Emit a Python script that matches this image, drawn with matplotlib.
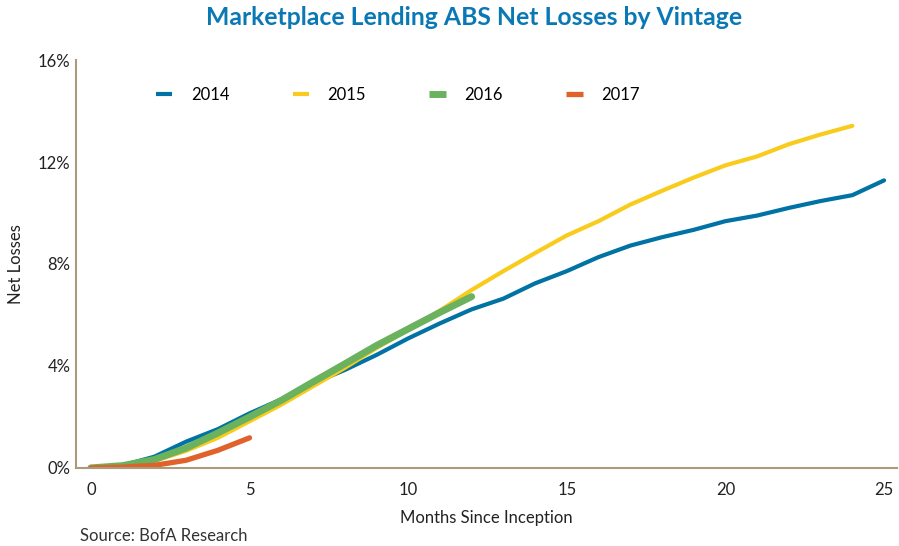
import numpy as np
import matplotlib.pyplot as plt

# data (net losses, %)
months_2014 = list(range(0, 26))
loss_2014 = [0.0, 0.1, 0.44, 1.03, 1.52, 2.14, 2.69, 3.32, 3.84, 4.43, 5.08, 5.67,
             6.22, 6.64, 7.24, 7.72, 8.27, 8.72, 9.05, 9.34, 9.68, 9.9, 10.2,
             10.47, 10.7, 11.28]
months_2015 = list(range(0, 25))
loss_2015 = [0.0, 0.05, 0.27, 0.67, 1.18, 1.83, 2.48, 3.2, 3.92, 4.7, 5.42, 6.17,
             6.98, 7.72, 8.43, 9.12, 9.68, 10.33, 10.87, 11.39, 11.87, 12.22,
             12.7, 13.08, 13.42]
months_2016 = list(range(0, 13))
loss_2016 = [0.0, 0.09, 0.33, 0.78, 1.37, 2.0, 2.65, 3.37, 4.08, 4.8, 5.45, 6.1, 6.72]
months_2017 = list(range(0, 6))
loss_2017 = [0.0, 0.03, 0.1, 0.3, 0.69, 1.18]

plt.rcParams['font.family'] = ['Lato', 'DejaVu Sans']

fig = plt.figure(figsize=(8.99, 5.46), dpi=100)
ax = fig.add_axes([0.0845, 0.143, 0.913, 0.747])

ax.plot(months_2014, loss_2014, color='#0072A3', lw=3, solid_capstyle='round', label='2014')
ax.plot(months_2015, loss_2015, color='#F8CB1C', lw=3, solid_capstyle='round', label='2015')
ax.plot(months_2016, loss_2016, color='#6AB25E', lw=5, solid_capstyle='round', label='2016')
ax.plot(months_2017, loss_2017, color='#E0612A', lw=3.8, solid_capstyle='round', label='2017')

ax.set_xlim(-0.47, 25.4)
ax.set_ylim(0, 16)
ax.set_xticks([0, 5, 10, 15, 20, 25])
ax.set_yticks([0, 4, 8, 12, 16])
ax.set_yticklabels(['0%', '4%', '8%', '12%', '16%'])
ax.tick_params(length=0, labelsize=12, colors='#222222')
ax.tick_params(axis='x', pad=10)
ax.tick_params(axis='y', pad=4)

for s in ['top', 'right']:
    ax.spines[s].set_visible(False)
for s in ['left', 'bottom']:
    ax.spines[s].set_color('#A89C7C')
    ax.spines[s].set_linewidth(1.5)

ax.set_xlabel('Months Since Inception', fontsize=12, labelpad=9, color='#222222')
ax.set_ylabel('Net Losses', fontsize=12, labelpad=10, color='#222222')

leg = ax.legend(loc='upper left', bbox_to_anchor=(0.079, 0.97), ncol=4, frameon=False,
                fontsize=12, handlelength=1.0, handletextpad=1.1, columnspacing=3.8)
for h in leg.get_lines():
    h.set_solid_capstyle('butt')

fig.text(0.527, 0.955, 'Marketplace Lending ABS Net Losses by Vintage', ha='center',
         fontsize=17.8, fontweight='bold', color='#0A78B4')
fig.text(0.089, 0.01, 'Source: BofA Research', fontsize=12, color='#333333')

fig.savefig('out.png', dpi=100)
